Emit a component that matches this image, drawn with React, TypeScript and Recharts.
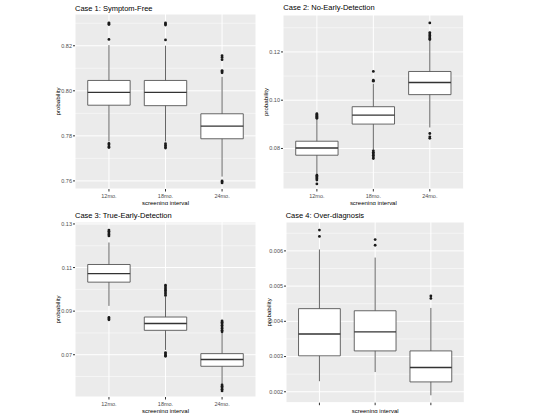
import {
  ScatterChart,
  Scatter,
  XAxis,
  YAxis,
  CartesianGrid,
  ReferenceArea,
  ReferenceLine,
} from "recharts";

const intervals = ["12mo.", "18mo.", "24mo."];

// Case 1: Symptom-Free
const symptomFreeLow = [0.7775, 0.7775, 0.7619];
const symptomFreeQ1 = [0.7936, 0.7934, 0.7787];
const symptomFreeMedian = [0.7993, 0.7993, 0.7843];
const symptomFreeQ3 = [0.8046, 0.8046, 0.7898];
const symptomFreeHigh = [0.8203, 0.8200, 0.8062];
const symptomFreeOutliers = [
  [0.8228, 0.8294, 0.8298, 0.8302, 0.7766, 0.776, 0.7752, 0.7748],
  [0.8226, 0.8292, 0.8297, 0.8301, 0.7765, 0.7758, 0.775, 0.7746],
  [0.808, 0.8086, 0.809, 0.8138, 0.8148, 0.8156, 0.76, 0.7596, 0.7591],
];

// Case 2: No-Early-Detection
const noEarlyLow = [0.0692, 0.0794, 0.0887];
const noEarlyQ1 = [0.0772, 0.0901, 0.1023];
const noEarlyMedian = [0.0802, 0.0938, 0.1073];
const noEarlyQ3 = [0.083, 0.0973, 0.1119];
const noEarlyHigh = [0.0922, 0.1068, 0.1248];
const noEarlyOutliers = [
  [0.0925, 0.0929, 0.0933, 0.0937, 0.0941, 0.0944, 0.0689, 0.0684, 0.0679, 0.0674, 0.0669, 0.0653],
  [0.1079, 0.1083, 0.1119, 0.079, 0.0784, 0.0778, 0.0772, 0.0765, 0.0758],
  [0.1251, 0.1256, 0.1262, 0.1268, 0.1274, 0.128, 0.132, 0.0862, 0.0848, 0.0842],
];

// Case 3: True-Early-Detection
const trueEarlyLow = [0.0924, 0.0722, 0.0565];
const trueEarlyQ1 = [0.1033, 0.0812, 0.0647];
const trueEarlyMedian = [0.1072, 0.0843, 0.0678];
const trueEarlyQ3 = [0.1114, 0.0873, 0.0705];
const trueEarlyHigh = [0.1215, 0.0967, 0.0802];
const trueEarlyOutliers = [
  [0.1245, 0.1252, 0.1259, 0.1266, 0.1272, 0.0871, 0.0865, 0.086],
  [0.0972, 0.098, 0.0988, 0.0996, 0.1003, 0.1011, 0.1019, 0.071, 0.0704, 0.0698, 0.0693],
  [0.0805, 0.0812, 0.082, 0.0827, 0.0835, 0.0842, 0.0849, 0.0855, 0.0561, 0.0555, 0.0548, 0.0541, 0.0534],
];

// Case 4: Over-diagnosis
const overDiagLow = [0.0023, 0.00256, 0.0019];
const overDiagQ1 = [0.00302, 0.00316, 0.00228];
const overDiagMedian = [0.00364, 0.0037, 0.00269];
const overDiagQ3 = [0.00436, 0.0043, 0.00316];
const overDiagHigh = [0.00604, 0.00581, 0.00438];
const overDiagOutliers = [
  [0.00641, 0.00659],
  [0.00616, 0.00632],
  [0.00465, 0.00472],
];

const AXIS_W = 22;
const HALF_BOX = 0.375;
const BOX_STROKE = "#555555";

type Stats = {
  low: number[];
  q1: number[];
  median: number[];
  q3: number[];
  high: number[];
  outliers: number[][];
};

type Plot = { left: number; top: number; right: number; bottom: number; titleTop: number };

function BoxPanel({
  title,
  stats,
  domain,
  ticks,
  minorTicks,
  digits,
  plot,
  showTickLabels = true,
}: {
  title: string;
  stats: Stats;
  domain: [number, number];
  ticks: number[];
  minorTicks: number[];
  digits: number;
  plot: Plot;
  showTickLabels?: boolean;
}) {
  const xAxisH = showTickLabels ? 16 : 10;
  const width = plot.right - plot.left + AXIS_W;
  const height = plot.bottom - plot.top + xAxisH;
  const points = stats.outliers.flatMap((vals, i) => vals.map((v) => ({ pos: i + 1, value: v })));

  return (
    <>
      <div
        style={{
          position: "absolute",
          left: plot.left,
          top: plot.titleTop,
          fontSize: 7.5,
          lineHeight: "8px",
          color: "#000",
          whiteSpace: "nowrap",
        }}
      >
        {title}
      </div>
      <div style={{ position: "absolute", left: plot.left - AXIS_W, top: plot.top }}>
        <ScatterChart width={width} height={height} margin={{ top: 0, right: 0, bottom: 0, left: 0 }}>
          <CartesianGrid fill="#EBEBEB" stroke="#FFFFFF" strokeWidth={1} />
          <CartesianGrid
            vertical={false}
            horizontalValues={minorTicks}
            stroke="#FFFFFF"
            strokeWidth={0.5}
          />
          <XAxis
            type="number"
            dataKey="pos"
            domain={[0.4, 3.6]}
            allowDataOverflow
            ticks={[1, 2, 3]}
            interval={0}
            tickFormatter={(v: number) => (showTickLabels ? intervals[v - 1] : "")}
            axisLine={false}
            tickLine={{ stroke: "#333333" }}
            tickSize={2.5}
            tickMargin={2.5}
            tick={{ fontSize: 5.5, fill: "#4D4D4D" }}
            height={xAxisH}
            label={{
              value: "screening interval",
              position: "insideBottom",
              offset: 0,
              fontSize: 6,
              fill: "#000",
            }}
          />
          <YAxis
            type="number"
            dataKey="value"
            domain={domain}
            allowDataOverflow
            ticks={ticks}
            interval={0}
            tickFormatter={(v: number) => v.toFixed(digits)}
            axisLine={false}
            tickLine={{ stroke: "#333333" }}
            tickSize={2}
            tickMargin={1}
            tick={{ fontSize: 5.5, fill: "#4D4D4D" }}
            width={AXIS_W}
            label={{
              value: "probability",
              angle: -90,
              position: "insideLeft",
              offset: 5,
              fontSize: 6.2,
              fill: "#000",
              style: { textAnchor: "middle" },
            }}
          />
          {intervals.map((_, i) => (
            <ReferenceLine
              key={`wh-${i}`}
              segment={[
                { x: i + 1, y: stats.q3[i] },
                { x: i + 1, y: stats.high[i] },
              ]}
              stroke={BOX_STROKE}
              strokeWidth={0.9}
            />
          ))}
          {intervals.map((_, i) => (
            <ReferenceLine
              key={`wl-${i}`}
              segment={[
                { x: i + 1, y: stats.low[i] },
                { x: i + 1, y: stats.q1[i] },
              ]}
              stroke={BOX_STROKE}
              strokeWidth={0.9}
            />
          ))}
          {intervals.map((_, i) => (
            <ReferenceArea
              key={`box-${i}`}
              x1={i + 1 - HALF_BOX}
              x2={i + 1 + HALF_BOX}
              y1={stats.q1[i]}
              y2={stats.q3[i]}
              fill="#FFFFFF"
              fillOpacity={1}
              stroke={BOX_STROKE}
              strokeWidth={0.9}
            />
          ))}
          {intervals.map((_, i) => (
            <ReferenceLine
              key={`med-${i}`}
              segment={[
                { x: i + 1 - HALF_BOX, y: stats.median[i] },
                { x: i + 1 + HALF_BOX, y: stats.median[i] },
              ]}
              stroke="#333333"
              strokeWidth={1.4}
            />
          ))}
          <Scatter
            data={points}
            isAnimationActive={false}
            shape={(p: { cx?: number; cy?: number }) => (
              <circle cx={p.cx} cy={p.cy} r={1.4} fill="#1A1A1A" />
            )}
          />
        </ScatterChart>
      </div>
    </>
  );
}

export default function App() {
  return (
    <div
      style={{
        position: "absolute",
        left: 0,
        top: 0,
        width: 546,
        height: 419,
        background: "#FFFFFF",
        fontFamily: "'Liberation Sans', Arial, sans-serif",
      }}
    >
      <BoxPanel
        title="Case 1: Symptom-Free"
        stats={{
          low: symptomFreeLow,
          q1: symptomFreeQ1,
          median: symptomFreeMedian,
          q3: symptomFreeQ3,
          high: symptomFreeHigh,
          outliers: symptomFreeOutliers,
        }}
        domain={[0.7564, 0.8341]}
        ticks={[0.76, 0.78, 0.8, 0.82]}
        minorTicks={[0.77, 0.79, 0.81, 0.83]}
        digits={2}
        plot={{ left: 75, top: 14, right: 256, bottom: 189, titleTop: 5 }}
      />
      <BoxPanel
        title="Case 2: No-Early-Detection"
        stats={{
          low: noEarlyLow,
          q1: noEarlyQ1,
          median: noEarlyMedian,
          q3: noEarlyQ3,
          high: noEarlyHigh,
          outliers: noEarlyOutliers,
        }}
        domain={[0.0632, 0.1353]}
        ticks={[0.08, 0.1, 0.12]}
        minorTicks={[0.07, 0.09, 0.11, 0.13]}
        digits={2}
        plot={{ left: 283.3, top: 15, right: 464, bottom: 189, titleTop: 4.3 }}
      />
      <BoxPanel
        title="Case 3: True-Early-Detection"
        stats={{
          low: trueEarlyLow,
          q1: trueEarlyQ1,
          median: trueEarlyMedian,
          q3: trueEarlyQ3,
          high: trueEarlyHigh,
          outliers: trueEarlyOutliers,
        }}
        domain={[0.0506, 0.1309]}
        ticks={[0.07, 0.09, 0.11, 0.13]}
        minorTicks={[0.06, 0.08, 0.1, 0.12]}
        digits={2}
        plot={{ left: 75, top: 222, right: 256, bottom: 397, titleTop: 212.3 }}
      />
      <BoxPanel
        title="Case 4: Over-diagnosis"
        stats={{
          low: overDiagLow,
          q1: overDiagQ1,
          median: overDiagMedian,
          q3: overDiagQ3,
          high: overDiagHigh,
          outliers: overDiagOutliers,
        }}
        domain={[0.00169, 0.00682]}
        ticks={[0.002, 0.003, 0.004, 0.005, 0.006]}
        minorTicks={[0.0025, 0.0035, 0.0045, 0.0055, 0.0065]}
        digits={3}
        plot={{ left: 285.7, top: 222.3, right: 464, bottom: 403, titleTop: 211.7 }}
        showTickLabels={false}
      />
    </div>
  );
}
